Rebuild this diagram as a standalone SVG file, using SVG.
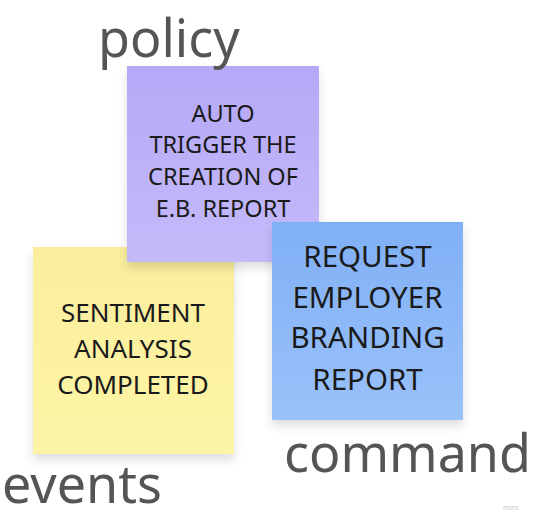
<svg xmlns="http://www.w3.org/2000/svg" width="533" height="522" viewBox="0 0 533 522">
<style>
.lbl{font-family:"Noto Sans","Open Sans",sans-serif;font-size:52px;fill:#555555}
.t{font-family:"Noto Sans","Open Sans",sans-serif;fill:#1a1a1a;text-anchor:middle}
</style>
<defs>
<filter id="sh" x="-20%" y="-20%" width="140%" height="150%">
<feDropShadow dx="0" dy="6" stdDeviation="5" flood-color="#000" flood-opacity="0.13"/>
</filter>
<linearGradient id="gy" x1="0" y1="0" x2="0" y2="1"><stop offset="0" stop-color="#faee9c"/><stop offset="1" stop-color="#fdf5a6"/></linearGradient>
<linearGradient id="gp" x1="0" y1="0" x2="0" y2="1"><stop offset="0" stop-color="#b6a8f7"/><stop offset="1" stop-color="#c4bafa"/></linearGradient>
<linearGradient id="gb" x1="0" y1="0" x2="0" y2="1"><stop offset="0" stop-color="#80aff5"/><stop offset="1" stop-color="#9ac2fa"/></linearGradient>
</defs>
<rect width="533" height="522" fill="#ffffff"/>
<g id="events-note">
<rect x="33" y="247" width="201" height="207" fill="url(#gy)" filter="url(#sh)"/>
<text class="t" font-size="26"><tspan x="133" y="322">SENTIMENT</tspan><tspan x="133" y="358">ANALYSIS</tspan><tspan x="133" y="394">COMPLETED</tspan></text>
</g>
<g id="policy-note">
<rect x="127" y="66" width="192" height="196" fill="url(#gp)" filter="url(#sh)"/>
<text class="t" font-size="23.5"><tspan x="223" y="122">AUTO</tspan><tspan x="223" y="153">TRIGGER THE</tspan><tspan x="223" y="185">CREATION OF</tspan><tspan x="223" y="217">E.B. REPORT</tspan></text>
</g>
<g id="command-note">
<rect x="272" y="222" width="191" height="198" fill="url(#gb)" filter="url(#sh)"/>
<text class="t" font-size="29.5"><tspan x="367.5" y="267">REQUEST</tspan><tspan x="367.5" y="308">EMPLOYER</tspan><tspan x="367.5" y="348">BRANDING</tspan><tspan x="367.5" y="390">REPORT</tspan></text>
</g>
<g id="labels">
<text class="lbl" x="98" y="57">policy</text>
<text class="lbl" x="284" y="472">command</text>
<text class="lbl" x="2" y="503">events</text>
<text x="503" y="510" font-family="Noto Sans, sans-serif" font-size="7" fill="#c8c8c8">miro</text>
</g>
<g id="connectors"/>
</svg>
